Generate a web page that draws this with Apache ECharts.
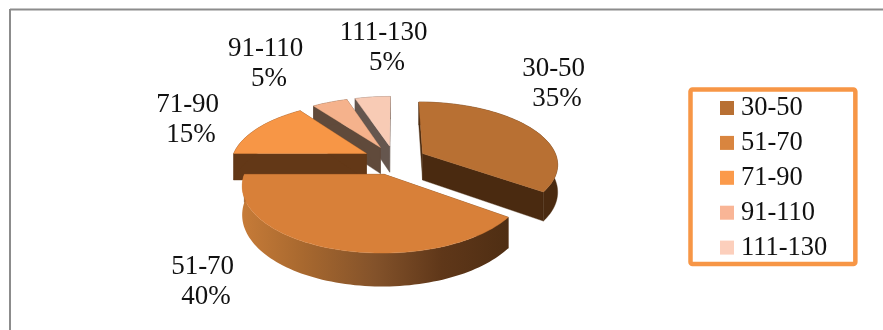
<!DOCTYPE html>
<html>
<head>
<meta charset="utf-8">
<style>html,body{margin:0;padding:0;background:#fff}#c{width:883px;height:330px}</style>
<script src="https://cdn.jsdelivr.net/npm/echarts@6/dist/echarts.min.js"></script>
</head>
<body>
<div id="c"></div>
<script>
// ---- data ----
const categories = ['30-50', '51-70', '71-90', '91-110', '111-130'];
const values = [35, 40, 15, 5, 5];

// ---- styles and layout, kept apart from the data ----
const topColors = ['#B87033', '#D88039', '#F79646', '#F5B28C', '#F8CBB5'];
const legendColors = ['#B87033', '#D9853F', '#FB9A4B', '#F9B596', '#FCCFBC'];
const sideColors = ['#4A2A10', '#5A3517', '#633817', '#604A3B', '#65564E'];
const zOrder = [5, 6, 4, 3, 2];
const labelCenters = [[557, 84], [206, 282], [191, 120], [269, 64], [387, 48]];
const FONT = '"Liberation Serif","Times New Roman",serif';
const view = {cx: 394.5, cy: 160, radius: 135, explode: 32, tilt: 0.455, dist: 864, depth: 27};

function project(X, Y, drop) {
  const s = view.dist / (view.dist - Y);
  return [view.cx + X * s, view.cy + Y * view.tilt * s + drop * s];
}
const total = values.reduce((a, b) => a + b, 0);

function sliceRange(i) {
  let before = 0;
  for (let k = 0; k < i; k++) before += values[k];
  return [before / total * 2 * Math.PI, (before + values[i]) / total * 2 * Math.PI];
}

function makeRender(i) {
  return function (params, api) {
    const [a0, a1] = sliceRange(i);
    const mid = (a0 + a1) / 2;
    const ox = Math.sin(mid) * view.explode, oy = -Math.cos(mid) * view.explode;
    const steps = Math.max(8, Math.round((a1 - a0) / 0.03));
    const world = [];
    for (let k = 0; k <= steps; k++) {
      const a = a0 + (a1 - a0) * k / steps;
      world.push([ox + Math.sin(a) * view.radius, oy - Math.cos(a) * view.radius]);
    }
    const rimTop = world.map(p => project(p[0], p[1], 0));
    const rimBottom = world.map(p => project(p[0], p[1], view.depth));
    const apexTop = project(ox, oy, 0), apexBottom = project(ox, oy, view.depth);
    const side = sideColors[i];
    let rimFill = side;
    if (i === 1) {
      rimFill = new echarts.graphic.LinearGradient(0, 0, 1, 0, [
        {offset: 0, color: '#C67B38'},
        {offset: 0.22, color: '#A9692F'},
        {offset: 0.5, color: '#83522A'},
        {offset: 0.75, color: '#5F3719'},
        {offset: 1, color: '#4F2E13'}
      ]);
    }
    const poly = (pts, fill) => ({
      type: 'polygon', shape: {points: pts},
      style: {fill: fill, stroke: fill === rimFill && i === 1 ? null : fill, lineWidth: 0.4}
    });
    const pct = Math.round(api.value(0) / total * 100);
    return {
      type: 'group',
      children: [
        poly([apexTop, rimTop[0], rimBottom[0], apexBottom], side),
        poly([apexTop, rimTop[steps], rimBottom[steps], apexBottom], side),
        poly(rimTop.concat(rimBottom.slice().reverse()), rimFill),
        poly([apexTop].concat(rimTop), topColors[i]),
        {
          type: 'text',
          x: labelCenters[i][0], y: labelCenters[i][1],
          style: {
            text: categories[i] + ' \n' + pct + '%',
            font: '27px ' + FONT, fill: '#111',
            align: 'center', verticalAlign: 'middle', lineHeight: 30
          }
        }
      ]
    };
  };
}

const chart = echarts.init(document.getElementById('c'), null, {renderer: 'canvas'});
chart.setOption({
  animation: false,
  backgroundColor: '#fff',
  graphic: [
    {type: 'line', shape: {x1: 10, y1: 9.5, x2: 883, y2: 9.5}, style: {stroke: '#8c8c8c', lineWidth: 2}},
    {type: 'line', shape: {x1: 10, y1: 9, x2: 10, y2: 330}, style: {stroke: '#8c8c8c', lineWidth: 2}}
  ],
  legend: {
    show: true,
    orient: 'vertical',
    left: 690.5,
    top: 89.5,
    padding: [5, 28, 3, 29.5],
    itemGap: 7.9,
    itemWidth: 14,
    itemHeight: 14,
    icon: 'rect',
    borderColor: '#F79646',
    borderWidth: 4.5,
    borderRadius: 2,
    selectedMode: false,
    textStyle: {fontFamily: FONT, fontSize: 26.5, color: '#111', padding: [0, 0, 0, 2], lineHeight: 26},
    data: categories.map((name, i) => ({name: name, itemStyle: {color: legendColors[i]}}))
  },
  series: categories.map((name, i) => ({
    type: 'custom',
    name: name,
    coordinateSystem: 'none',
    z: zOrder[i],
    silent: true,
    itemStyle: {color: topColors[i]},
    renderItem: makeRender(i),
    data: [[values[i]]]
  }))
});
</script>
</body>
</html>
